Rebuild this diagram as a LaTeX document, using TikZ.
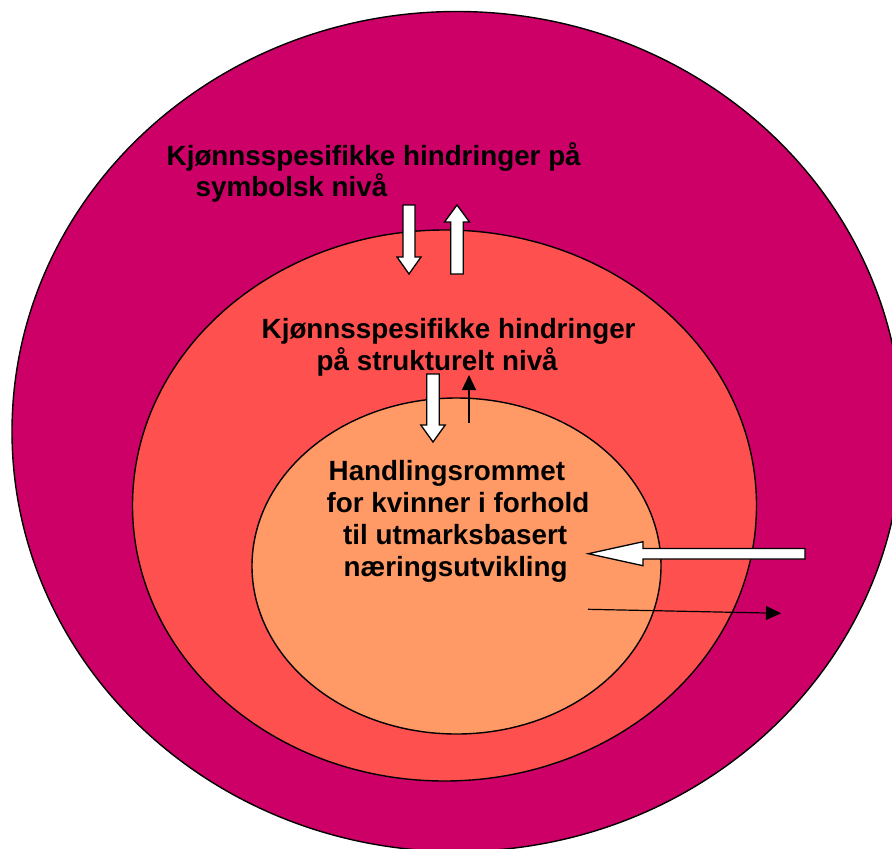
\documentclass[tikz,border=0pt]{standalone}
\usepackage{fontspec}
\setmainfont{Liberation Sans}
\usetikzlibrary{arrows.meta}
\definecolor{outerc}{RGB}{204,0,102}
\definecolor{midc}{RGB}{255,80,80}
\definecolor{innerc}{RGB}{255,153,102}
\begin{document}
\begin{tikzpicture}[x=1pt,y=-1pt,
  ring/.style={draw=black,line width=1.4pt},
  lbl/.style={anchor=base west,inner sep=0pt,font=\bfseries\fontsize{27.8}{31.5}\selectfont},
  blockarrow/.style={draw=black,fill=white,line width=1.3pt,line join=miter},
  thinarrow/.style={draw=black,line width=1.2pt,-{Triangle[length=15pt,width=14pt]}}]
\useasboundingbox (0,0) rectangle (892,849);
\clip (0,0) rectangle (892,849);
\fill[white] (0,0) rectangle (892,849);
% rings
\draw[ring,fill=outerc] (457,431.5) ellipse [x radius=445pt, y radius=420pt];
\draw[ring,fill=midc] (444.5,505.5) ellipse [x radius=312pt, y radius=275.5pt];
\draw[ring,fill=innerc] (456.5,566) ellipse [x radius=204.5pt, y radius=168pt];
% texts
\node[lbl] (t1a) at (166.5,165.7) {Kjønnsspesifikke hindringer på};
\node[lbl] (t1b) at (195.5,196) {symbolsk nivå};
\node[lbl] (t2a) at (261.5,338.3) {Kjønnsspesifikke hindringer};
\node[lbl] (t2b) at (316.5,370) {på strukturelt nivå};
\node[lbl] (t3a) at (328.5,480) {Handlingsrommet};
\node[lbl] (t3b) at (326.5,512.5) {for kvinner i forhold};
\node[lbl] (t3c) at (343,544.5) {til utmarksbasert};
\node[lbl] (t3d) at (343.5,576) {næringsutvikling};
% block arrows
\draw[blockarrow] (403,205) -- (415,205) -- (415,257) -- (421,257) -- (409,274)
  -- (397,257) -- (403,257) -- cycle;
\draw[blockarrow] (450.7,274) -- (463.3,274) -- (463.3,222) -- (469.5,222) -- (457,205)
  -- (444.5,222) -- (450.7,222) -- cycle;
\draw[blockarrow] (426.8,374) -- (439.2,374) -- (439.2,425) -- (445.2,425) -- (433,442)
  -- (420.8,425) -- (426.8,425) -- cycle;
\draw[blockarrow] (805,548.4) -- (805,559) -- (643,559) -- (643,565.7) -- (588.3,553.7)
  -- (643,541.7) -- (643,548.4) -- cycle;
% thin arrows
\coordinate (u0) at (469,422.5);
\coordinate (u1) at (469,375);
\draw[thinarrow] (u0) -- (u1);
\coordinate (r0) at (588,609.3);
\coordinate (r1) at (781,613.3);
\draw[thinarrow] (r0) -- (r1);
\end{tikzpicture}
\end{document}
